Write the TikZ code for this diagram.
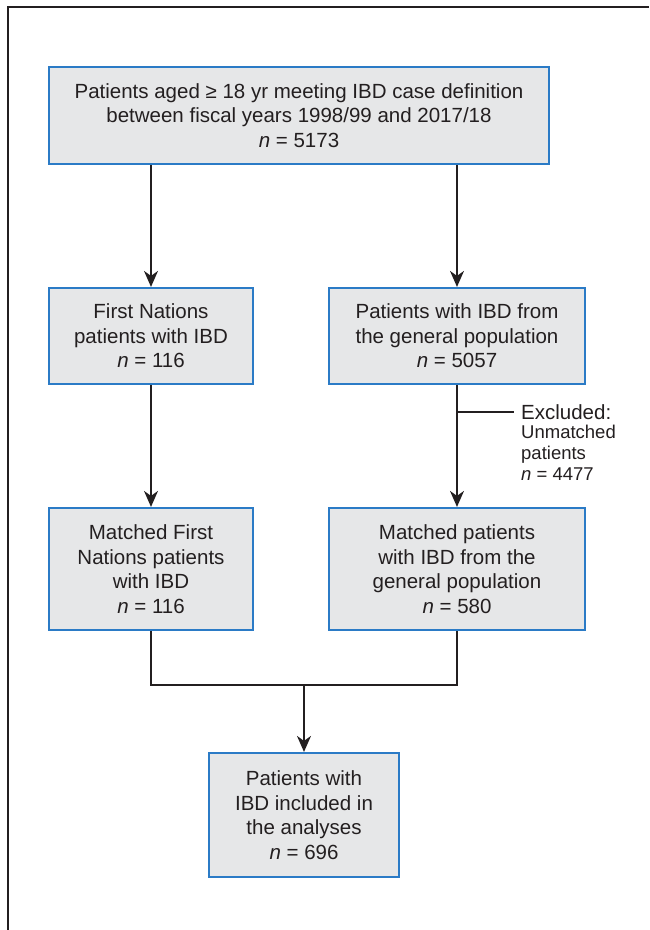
\documentclass[tikz,border=0pt]{standalone}
\usepackage{fontspec}
\setmainfont{Liberation Sans}
\usetikzlibrary{arrows.meta}
\definecolor{boxfill}{HTML}{E6E7E8}
\definecolor{boxline}{HTML}{2B7BC6}
\definecolor{ink}{HTML}{231F20}
\tikzset{
  flowbox/.style={draw=boxline, fill=boxfill, line width=2.2pt, align=center,
    inner sep=0pt, text=ink, font=\fontsize{20.5}{24.5}\selectfont},
  conn/.style={draw=ink, line width=1.4pt},
  arr/.style={conn, -{Stealth[length=16pt,width=14pt,inset=5pt]}},
  frame/.style={draw=ink, line width=1.2pt}
}
\begin{document}
\begin{tikzpicture}[x=1pt,y=-1pt]
\useasboundingbox (0,0) rectangle (649,930);
\draw[frame] (8,930) -- (8,7) -- (649,7);

\node[flowbox, minimum width=500pt, minimum height=97pt] (top) at (299,115.5)
  {Patients aged ≥ 18 yr meeting IBD case definition\\between fiscal years 1998/99 and 2017/18\\\textit{n} = 5173};
\node[flowbox, minimum width=204pt, minimum height=96pt] (fn) at (151,336)
  {First Nations\\patients with IBD\\\textit{n} = 116};
\node[flowbox, minimum width=256pt, minimum height=96pt] (gp) at (457,336)
  {Patients with IBD from\\the general population\\\textit{n} = 5057};
\node[flowbox, minimum width=204pt, minimum height=122pt] (mfn) at (151,569)
  {Matched First\\Nations patients\\with IBD\\\textit{n} = 116};
\node[flowbox, minimum width=256pt, minimum height=122pt] (mgp) at (457,569)
  {Matched patients\\with IBD from the\\general population\\\textit{n} = 580};
\node[flowbox, minimum width=190pt, minimum height=124pt] (fin) at (304,815)
  {Patients with\\IBD included in\\the analyses\\\textit{n} = 696};

\draw[arr] (fn.north |- top.south) -- (fn.north);
\draw[arr] (gp.north |- top.south) -- (gp.north);
\draw[arr] (fn.south) -- (mfn.north);
\draw[arr] (gp.south) -- (mgp.north);

\coordinate (exc) at (457,412);
\coordinate (excend) at (514,412);
\draw[conn] (exc) -- (excend);
\node[anchor=west, inner sep=0pt, text=ink, font=\fontsize{20.5}{24}\selectfont] (exclabel) at (521,412) {Excluded:};
\node[anchor=north west, inner sep=0pt, align=left, text=ink, font=\fontsize{18.5}{21}\selectfont] (excdetail) at (521,425)
  {Unmatched\\patients\\\textit{n} = 4477};

\coordinate (join) at (fin.north |- 0,685);
\draw[conn] (mfn.south) |- (join) -| (mgp.south);
\draw[arr] (join) -- (fin.north);
\end{tikzpicture}
\end{document}
